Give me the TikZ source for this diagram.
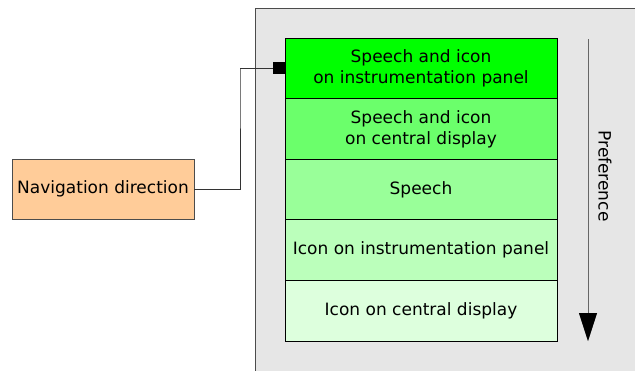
\documentclass[tikz,border=0pt]{standalone}
\usepackage{fontspec}
\setmainfont{DejaVu Sans}
\usetikzlibrary{positioning,arrows.meta}
\definecolor{panelgrey}{HTML}{E6E6E6}
\definecolor{navorange}{HTML}{FFCC99}
\definecolor{greenA}{HTML}{00FF00}
\definecolor{greenB}{HTML}{6BFF6B}
\definecolor{greenC}{HTML}{99FF99}
\definecolor{greenD}{HTML}{BBFFBB}
\definecolor{greenE}{HTML}{DDFFDD}
\tikzset{
  level/.style={draw=black,line width=0.8pt,minimum width=272pt,minimum height=60.6pt,
    inner sep=0pt,outer sep=0pt,align=center},
}
\begin{document}
\begin{tikzpicture}[x=1pt,y=-1pt,font=\fontsize{17}{21}\selectfont]
            \useasboundingbox (0,0) rectangle (635,370);
            \fill[panelgrey](255,8) rectangle (640,375);
            \draw[black!70,line width=0.8pt](255,375)--(255,8)--(640,8);
            \node[level,fill=greenA,anchor=north west] (l1) at (285,38) {Speech and icon\\on instrumentation panel};
            \node[level,fill=greenB,below=0pt of l1] (l2) {Speech and icon\\on central display};
            \node[level,fill=greenC,below=0pt of l2] (l3) {Speech};
            \node[level,fill=greenD,below=0pt of l3] (l4) {Icon on instrumentation panel};
            \node[level,fill=greenE,below=0pt of l4] (l5) {Icon on central display};
            \node[draw=black!70,line width=0.8pt,fill=navorange,minimum width=182pt,minimum height=60pt,inner sep=0pt,outer sep=0pt,anchor=north west] (nav) at (12,159) {Navigation direction};
            \node[fill=black,minimum size=12pt,inner sep=0pt,anchor=east] (pin) at (l1.west) {};
            \draw[black!80,line width=0.8pt] (nav.east)-|(240,69)|-(pin.west);
            \coordinate (pstart) at (588,39);
            \coordinate (pend) at (588,341);
            \draw[-{Triangle[length=28pt,width=18pt]},black!60,line width=1pt] (pstart)--(pend);
            \fill[black] (579,313)--(597,313)--(588,341)--cycle;
            \node[rotate=-90] (pref) at (605,176) {Preference};
        \end{tikzpicture}
\end{document}
